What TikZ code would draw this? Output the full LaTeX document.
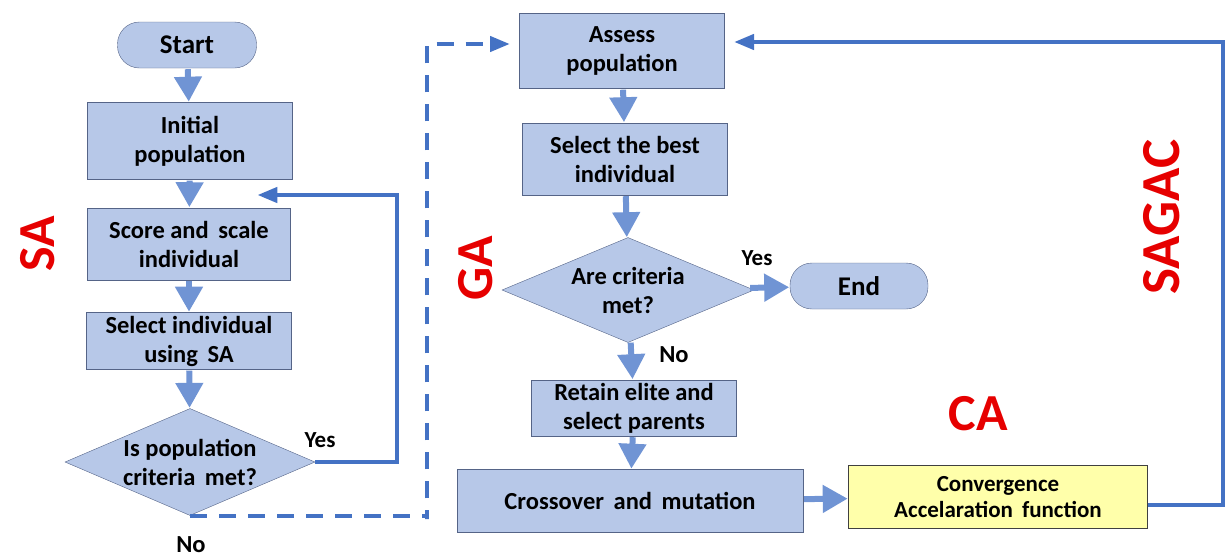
\documentclass[tikz,border=0pt]{standalone}
\usepackage{fontspec}
\setmainfont{Carlito}
\usepackage{tikz}
\usetikzlibrary{arrows,shapes.geometric}

\definecolor{boxfill}{RGB}{183,200,232}
\definecolor{boxline}{RGB}{85,100,135}
\definecolor{flow}{RGB}{112,148,212}
\definecolor{loop}{RGB}{68,114,196}
\definecolor{cafill}{RGB}{255,255,170}
\definecolor{tag}{RGB}{230,0,0}

\tikzset{
	>=triangle 45,
	every node/.style={font=\bfseries\fontsize{24.5}{29}\selectfont},
	box/.style={draw=boxline, fill=boxfill, align=center, inner sep=0pt},
	term/.style={box, rounded corners=22pt, minimum height=46pt, font=\bfseries\fontsize{27}{30}\selectfont},
	test/.style={box, diamond, aspect=2.34, inner xsep=-20pt, inner ysep=-8pt},
	flowline/.style={color=flow, line width=6pt, -triangle 60, shorten <=1pt, shorten >=1pt},
	loopline/.style={color=loop, line width=3.6pt},
	tagtext/.style={text=tag, font=\bfseries\fontsize{52}{52}\selectfont}
}

\begin{document}
\begin{tikzpicture}[x=1pt,y=-1pt]
	\useasboundingbox (0,0) rectangle (1226,557);
	% SA part
	\node[term, minimum width=139pt] (start) at (187,45) {Start};
	\node[box, minimum width=205pt, minimum height=77pt] (init) at (190,141) {Initial\\population};
	\node[box, minimum width=203pt, minimum height=72pt] (score) at (189,244) {Score and\, scale\\individual};
	\node[box, minimum width=205pt, minimum height=57pt] (selsa) at (189,341) {Select individual\\using\, SA};
	\node[test, minimum width=250pt, minimum height=107pt] (crit) at (190,462) {Is population\\criteria\, met?};
	\node[font=\bfseries\fontsize{23}{26}\selectfont] (yes1) at (320,440) {Yes};
	\node (no1) at (191,545) {No};
	% GA part
	\node[box, minimum width=205pt, minimum height=75pt] (assess) at (622,51) {Assess\\population};
	\node[box, minimum width=205pt, minimum height=72pt] (best) at (625,159) {Select the best\\individual};
	\node[test, minimum width=252pt, minimum height=105pt] (met) at (628,290) {Are criteria\\met?};
	\node[term, minimum width=138pt] (end) at (859,286) {End};
	\node[font=\bfseries\fontsize{23}{26}\selectfont] (yes2) at (757,258) {Yes};
	\node (no2) at (674,355) {No};
	\node[box, minimum width=205pt, minimum height=56pt] (retain) at (634,408) {Retain elite and\\select parents};
	\node[box, minimum width=346pt, minimum height=63pt] (cross) at (630,501) {Crossover\, and\, mutation};
	% CA part
	\node[box, fill=cafill, draw=black!75, minimum width=299pt, minimum height=63pt,
		font=\bfseries\fontsize{23}{26}\selectfont] (ca) at (998,497) {Convergence\\Accelaration\, function};
	% labels
	\node[tagtext, rotate=90] (sa) at (38,244) {SA};
	\node[tagtext, rotate=90] (ga) at (476,268) {GA};
	\node[tagtext, rotate=90, font=\bfseries\fontsize{55}{55}\selectfont] (sagac) at (1162,217) {SAGAC};
	\node[tagtext] (catag) at (978,414) {CA};

	\coordinate (ret) at (397,195);
	\coordinate (retend) at (258,195);
	\coordinate (jump) at (427,519);
	\coordinate (jumptop) at (427,44);
	\coordinate (back) at (1223,505);
	\coordinate (backtop) at (1223,42);

	\path[flowline]
	(start) edge (init)
	(init) edge (score)
	(score) edge (selsa)
	(selsa) edge (crit)
	(assess) edge (best)
	(best) edge (met)
	(met) edge (end)
	(met) edge (retain)
	(retain) edge (cross)
	(cross) edge (ca)
	;
	\draw[loopline,->] (crit.east) -| (ret) -- (retend);
	\draw[loopline,dash pattern=on 17pt off 12pt,->,shorten >=10pt]
	(crit.south) -- (crit.south -| jump) -- (jump) -- (jumptop) -- (assess.west |- jumptop);
	\draw[loopline,->,shorten >=10pt] (ca.east |- back) -- (back) -- (backtop) -- (assess.east |- backtop);
\end{tikzpicture}
\end{document}
